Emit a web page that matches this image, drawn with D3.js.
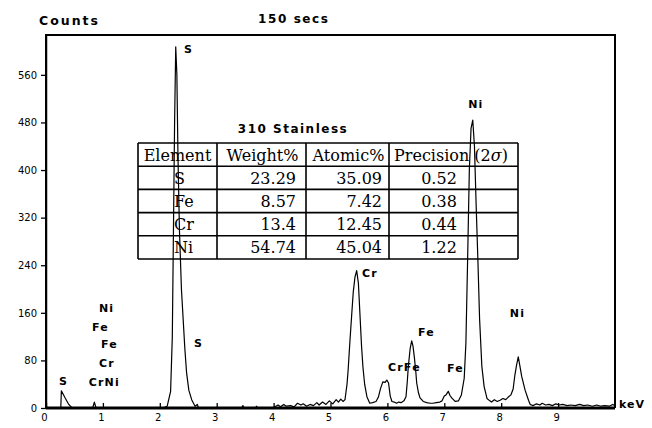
<!DOCTYPE html>
<html>
<head>
<meta charset="utf-8">
<script src="https://cdn.jsdelivr.net/npm/d3@7/dist/d3.min.js"></script>
<style>
  html, body { margin: 0; padding: 0; background: #fff; }
  svg { display: block; }
</style>
</head>
<body>
<svg id="chart" width="652" height="428"></svg>
<script>
// ---------- data ----------
const energy = [0.00,0.26,0.27,0.33,0.40,0.46,0.82,0.85,0.88,2.05,2.13,2.19,2.22,2.24,2.26,2.28,2.30,2.32,2.345,2.38,2.41,2.44,2.47,2.51,2.56,2.62,2.66,2.68,
  3.44,3.46,3.48,3.68,3.70,3.72,3.98,4.02,4.08,4.12,4.18,4.22,4.30,4.36,4.42,4.48,4.52,4.58,4.64,4.70,4.76,4.80,4.86,4.92,4.98,5.04,5.10,5.14,5.18,5.22,
  5.255,5.29,5.31,5.34,5.37,5.40,5.43,5.46,5.49,5.52,5.545,5.57,5.60,5.64,5.69,5.74,5.80,5.84,5.88,5.92,5.96,5.99,6.02,6.05,6.08,6.12,6.16,6.20,6.24,6.29,
  6.327,6.35,6.367,6.40,6.427,6.45,6.473,6.50,6.515,6.545,6.573,6.63,6.69,6.75,6.80,6.86,6.92,6.96,7.00,7.03,7.07,7.10,7.13,7.19,7.25,7.30,7.35,7.38,7.41,
  7.44,7.47,7.50,7.53,7.56,7.59,7.62,7.66,7.70,7.75,7.80,7.83,7.88,7.93,7.98,8.03,8.08,8.12,8.17,8.21,8.24,8.27,8.30,8.33,8.36,8.42,8.48,8.51,8.56,8.62,
  8.68,8.72,8.78,8.84,8.90,8.96,9.02,9.08,9.16,9.22,9.30,9.38,9.45,9.52,9.60,9.68,9.75,9.82,9.90,9.96,10.0];
const counts = [0,0,29,18,6,0,0,10,0,0,3,28,120,300,480,607,560,420,300,200,150,100,60,30,14,3,6,0,
  0,4,0,0,3,0,0,2,5,2,6,3,4,2,8,5,7,3,6,4,9,5,10,6,12,7,14,10,15,11,
  14,40,64,110,153,195,220,231,210,153,105,69,40,19,8,9,11,18,33,44,43,47,42,20,11,10,8,10,9,12,
  19,45,69,100,113,104,86,60,42,26,17,11,9,8,8,9,10,12,20,22,28,21,17,11,12,22,50,110,250,
  400,470,484,440,340,250,150,70,36,16,12,10,14,11,13,16,14,18,22,32,55,72,86,70,53,30,13,6,4,7,
  5,8,5,6,4,7,5,6,4,5,4,6,4,5,3,5,3,4,3,6,4];

const xTicks = [0,1,2,3,4,5,6,7,8,9];
const yTicks = [0,80,160,240,320,400,480,560];

// peak annotations (text, keV, counts at baseline-left)
const peakLabels = ["S","Ni","Cr","Ni","Fe","CrFe","Fe","S","Ni","Fe","Fe","Cr","CrNi","S"];
const peakLabelKeV = [2.425,7.42,5.553,8.15,6.538,6.01,7.047,2.60,0.93,0.81,0.967,0.93,0.75,0.228];
const peakLabelCnt = [597,504,220,153,121,62,60.5,102.5,161,129,101,69,37,38.7];

// composition table
const tableTitle = "310 Stainless";
const tableHeader = ["Element","Weight%","Atomic%","Precision"];
const tableElements = ["S","Fe","Cr","Ni"];
const tableWeight = ["23.29","8.57","13.4","54.74"];
const tableAtomic = ["35.09","7.42","12.45","45.04"];
const tablePrecision = ["0.52","0.38","0.44","1.22"];

// ---------- layout ----------
const svg = d3.select("#chart");
const L = 46, R = 615, T = 35, B = 408;
const x = d3.scaleLinear().domain([0, 10]).range([L, R]);
const y = d3.scaleLinear().domain([0, 627]).range([B, T]);

const labelFont = "'DejaVu Sans', 'Liberation Sans', sans-serif";
const tickFont = "'DejaVu Sans', sans-serif";
const serif = "'DejaVu Serif', serif";

// frame
svg.append("path")
  .attr("d", `M${L},${B} L${L},${T} L${R},${T} L${R},${B}`)
  .attr("fill", "none").attr("stroke", "#000").attr("stroke-width", 2);

// spectrum
const pts = energy.map((e, i) => [e, counts[i]]);
svg.append("path")
  .datum(pts)
  .attr("fill", "none")
  .attr("stroke", "#000")
  .attr("stroke-width", 1.2)
  .attr("stroke-linejoin", "round")
  .attr("d", d3.line().x(d => x(d[0])).y(d => y(d[1])));

// y axis
const gy = svg.append("g").attr("transform", `translate(${L},0)`)
  .call(d3.axisLeft(y).tickValues(yTicks).tickSize(5).tickPadding(4).tickSizeOuter(0));
gy.select(".domain").attr("stroke-width", 1.5);
gy.selectAll(".tick line").attr("stroke-width", 1.3);
gy.selectAll("text").attr("font-family", tickFont).attr("font-size", 10).attr("fill", "#000");

// x axis
const gx = svg.append("g").attr("transform", `translate(0,${B})`)
  .call(d3.axisBottom(x).tickValues(xTicks).tickSizeInner(-5).tickSizeOuter(0).tickPadding(6));
gx.select(".domain").attr("stroke-width", 3).attr("d", `M${L},0H${R}`);
gx.selectAll(".tick line").attr("stroke-width", 1.3);
gx.selectAll("text").attr("font-family", tickFont).attr("font-size", 10).attr("fill", "#000").attr("dx", -2);

// titles
const boldText = (sel, size, ls) => sel.attr("font-family", labelFont).attr("font-weight", "bold")
  .attr("font-size", size).attr("letter-spacing", ls);
boldText(svg.append("text").attr("x", 39).attr("y", 25).text("Counts"), 12.5, 2);
boldText(svg.append("text").attr("x", 258).attr("y", 23).text("150 secs"), 12, 1.6);
boldText(svg.append("text").attr("x", 619).attr("y", 408).text("keV"), 11, 1);

// peak labels
boldText(svg.append("g").selectAll("text").data(peakLabels).join("text")
  .attr("x", (d, i) => x(peakLabelKeV[i]))
  .attr("y", (d, i) => y(peakLabelCnt[i]))
  .text(d => d), 11, 1.2);

// table
const colX = [138, 217, 306, 389, 518];
const tTop = 143, rowH = 23.2;
const nRows = tableElements.length + 1;
const tg = svg.append("g");
boldText(tg.append("text").attr("x", 293).attr("y", 133).attr("text-anchor", "middle").text(tableTitle), 12, 1.5);
for (let r = 0; r <= nRows; r++) {
  tg.append("line").attr("x1", colX[0]).attr("x2", colX[4])
    .attr("y1", tTop + r * rowH).attr("y2", tTop + r * rowH)
    .attr("stroke", "#000").attr("stroke-width", 1.6);
}
colX.forEach(cx => {
  tg.append("line").attr("x1", cx).attr("x2", cx)
    .attr("y1", tTop).attr("y2", tTop + nRows * rowH)
    .attr("stroke", "#000").attr("stroke-width", 1.6);
});
const tstyle = sel => sel.attr("font-family", serif).attr("font-size", 16).attr("fill", "#000");
const base = r => tTop + r * rowH + rowH / 2 + 6;
// header
tstyle(tg.append("text").attr("x", (colX[0] + colX[1]) / 2).attr("y", base(0)).attr("text-anchor", "middle").text(tableHeader[0]));
tstyle(tg.append("text").attr("x", (colX[1] + colX[2]) / 2 + 1).attr("y", base(0)).attr("text-anchor", "middle").text(tableHeader[1]));
tstyle(tg.append("text").attr("x", (colX[2] + colX[3]) / 2 + 1).attr("y", base(0)).attr("text-anchor", "middle").text(tableHeader[2]));
const ph = tg.append("text").attr("x", 394).attr("y", base(0));
tstyle(ph);
ph.append("tspan").text(tableHeader[3] + " (2");
ph.append("tspan").attr("font-style", "italic").text("σ");
ph.append("tspan").text(")");
tableElements.forEach((el, i) => {
  const yy = base(i + 1);
  tstyle(tg.append("text").attr("x", 174).attr("y", yy).text(el));
  tstyle(tg.append("text").attr("x", 296).attr("y", yy).attr("text-anchor", "end").text(tableWeight[i]));
  tstyle(tg.append("text").attr("x", 382).attr("y", yy).attr("text-anchor", "end").text(tableAtomic[i]));
  tstyle(tg.append("text").attr("x", 439).attr("y", yy).attr("text-anchor", "middle").text(tablePrecision[i]));
});
</script>
</body>
</html>
